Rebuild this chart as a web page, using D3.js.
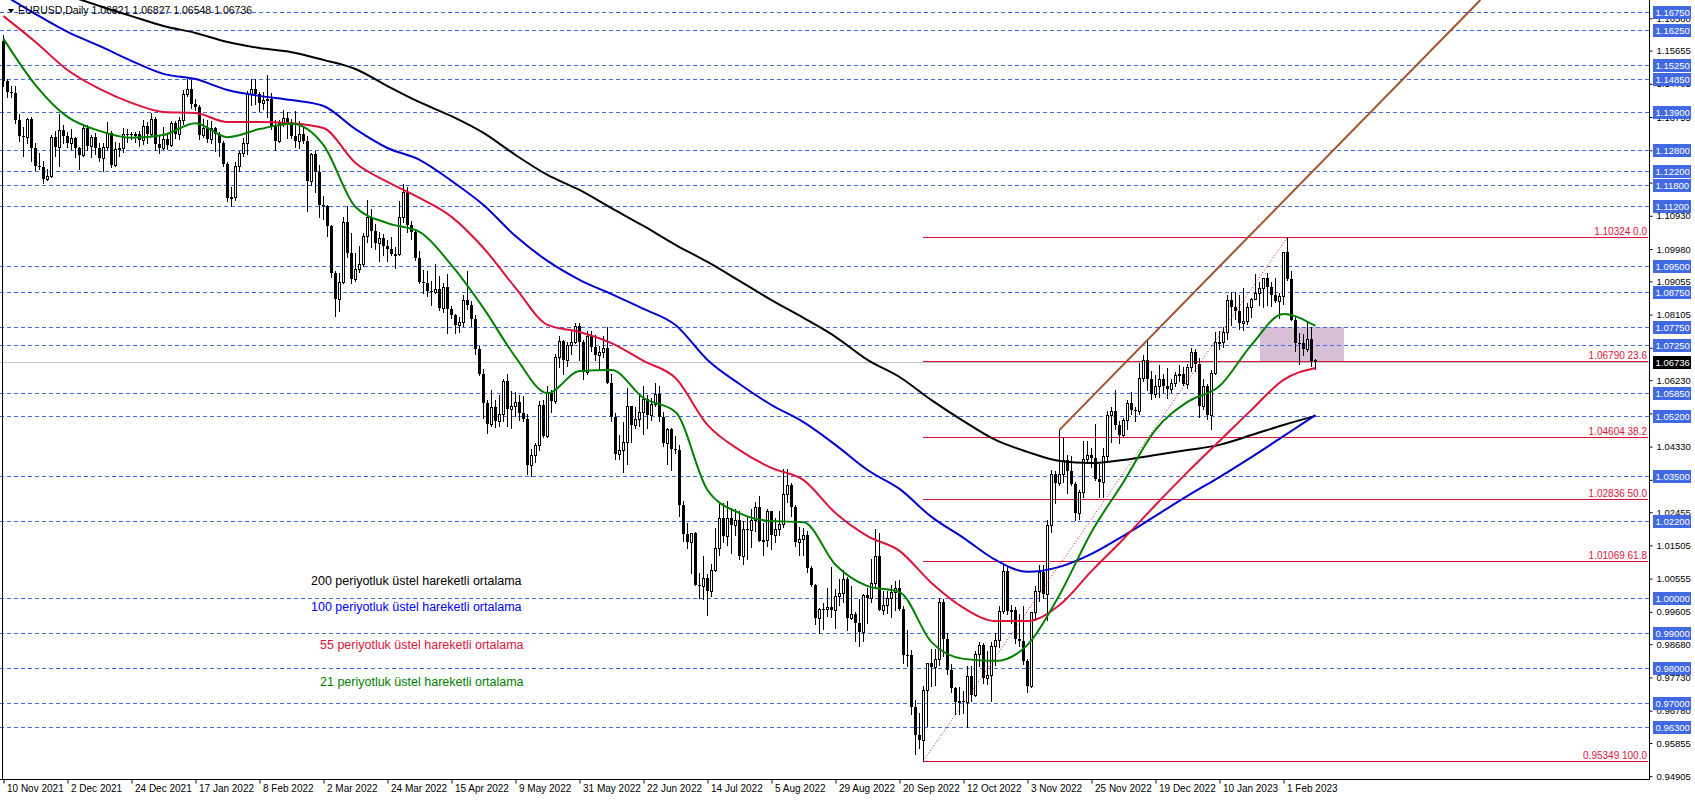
<!DOCTYPE html>
<html><head><meta charset="utf-8">
<script src="https://cdn.jsdelivr.net/npm/d3@7"></script>
<style>
body{margin:0;background:#fff;overflow:hidden}
svg{display:block}
text{font-family:"Liberation Sans",Arial,sans-serif}
</style>
</head><body>
<svg id="c" width="1695" height="800"></svg>
<script>
// ---------------- DATA ----------------
const opens=[
1.1593,1.1478,1.1446,1.1444,1.1368,1.1320,1.1319,1.1370,1.1287,1.1236,
1.1233,1.1198,1.1207,1.1317,1.1291,1.1338,1.1320,1.1300,1.1315,1.1288,
1.1266,1.1343,1.1293,1.1317,1.1286,1.1258,1.1289,1.1330,1.1238,1.1283,
1.1287,1.1328,1.1326,1.1323,1.1327,1.1310,1.1350,1.1326,1.1370,1.1298,
1.1286,1.1312,1.1296,1.1359,1.1326,1.1368,1.1441,1.1456,1.1413,1.1404,
1.1325,1.1344,1.1313,1.1345,1.1327,1.1302,1.1240,1.1144,1.1146,1.1235,
1.1272,1.1302,1.1440,1.1457,1.1441,1.1417,1.1423,1.1428,1.1349,1.1307,
1.1359,1.1374,1.1362,1.1322,1.1307,1.1327,1.1308,1.1193,1.1270,1.1219,
1.1123,1.1120,1.1065,1.0929,1.0854,1.0904,1.1074,1.0986,1.0911,1.0942,
1.0955,1.1036,1.1090,1.1050,1.1016,1.1031,1.1006,1.0997,1.0983,1.0985,
1.1089,1.1160,1.1066,1.1046,1.0971,1.0904,1.0900,1.0878,1.0875,1.0883,
1.0829,1.0890,1.0826,1.0808,1.0780,1.0788,1.0851,1.0838,1.0797,1.0713,
1.0641,1.0557,1.0498,1.0545,1.0507,1.0525,1.0622,1.0540,1.0549,1.0562,
1.0530,1.0512,1.0380,1.0410,1.0437,1.0551,1.0464,1.0587,1.0564,1.0690,
1.0735,1.0680,1.0725,1.0733,1.0779,1.0732,1.0647,1.0750,1.0719,1.0694,
1.0705,1.0716,1.0615,1.0518,1.0411,1.0424,1.0445,1.0548,1.0496,1.0512,
1.0533,1.0568,1.0523,1.0554,1.0583,1.0519,1.0443,1.0484,1.0425,1.0424,
1.0266,1.0182,1.0160,1.0185,1.0038,1.0035,1.0058,1.0019,1.0081,1.0143,
1.0229,1.0178,1.0230,1.0210,1.0223,1.0120,1.0197,1.0195,1.0223,1.0260,
1.0164,1.0165,1.0248,1.0180,1.0198,1.0211,1.0297,1.0324,1.0259,1.0160,
1.0170,1.0179,1.0087,1.0036,0.9943,0.9969,0.9969,0.9974,0.9965,1.0005,
1.0015,1.0055,0.9943,0.9955,0.9929,0.9904,1.0008,0.9999,1.0042,1.0121,
0.9967,0.9979,0.9999,1.0016,1.0028,0.9969,0.9836,0.9836,0.9688,0.9608,
0.9594,0.9736,0.9814,0.9802,0.9825,0.9988,0.9884,0.9793,0.9743,0.9702,
0.9706,0.9703,0.9778,0.9722,0.9839,0.9867,0.9770,0.9781,0.9862,0.9880,
0.9963,1.0078,0.9963,0.9966,0.9882,0.9876,0.9820,0.9749,0.9959,1.0020,
1.0074,1.0011,1.0210,1.0355,1.0328,1.0355,1.0394,1.0363,1.0325,1.0243,
1.0303,1.0397,1.0408,1.0401,1.0339,1.0331,1.0406,1.0524,1.0535,1.0494,
1.0466,1.0508,1.0557,1.0537,1.0536,1.0630,1.0680,1.0626,1.0584,1.0607,
1.0625,1.0605,1.0598,1.0616,1.0638,1.0640,1.0612,1.0661,1.0705,1.0670,
1.0548,1.0605,1.0522,1.0644,1.0732,1.0733,1.0762,1.0851,1.0831,1.0822,
1.0787,1.0793,1.0832,1.0855,1.0871,1.0887,1.0914,1.0890,1.0868,1.0848,
1.0863,1.0990,1.0912,1.0794,1.0728,1.0728,1.0713,1.0742,1.06821];
const highs=[
1.1609,1.1485,1.1464,1.1464,1.1384,1.1348,1.1374,1.1375,1.1300,1.1272,
1.1250,1.1226,1.1325,1.1336,1.1383,1.1352,1.1334,1.1341,1.1319,1.1291,
1.1355,1.1354,1.1325,1.1329,1.1300,1.1300,1.1360,1.1335,1.1304,1.1302,
1.1345,1.1342,1.1334,1.1333,1.1335,1.1368,1.1361,1.1386,1.1377,1.1323,
1.1346,1.1331,1.1364,1.1363,1.1375,1.1453,1.1483,1.1482,1.1428,1.1410,
1.1369,1.1368,1.1363,1.1348,1.1333,1.1306,1.1247,1.1175,1.1248,1.1279,
1.1315,1.1449,1.1484,1.1484,1.1446,1.1448,1.1495,1.1443,1.1367,1.1367,
1.1395,1.1390,1.1370,1.1394,1.1364,1.1347,1.1322,1.1274,1.1279,1.1238,
1.1151,1.1124,1.1067,1.0934,1.0929,1.1089,1.1121,1.1044,1.0987,1.1006,
1.1043,1.1137,1.1113,1.1070,1.1046,1.1042,1.1025,1.1033,1.1005,1.1136,
1.1185,1.1176,1.1077,1.1053,1.0991,1.0939,1.0936,1.0908,1.0956,1.0922,
1.0900,1.0926,1.0836,1.0812,1.0804,1.0866,1.0936,1.0849,1.0809,1.0721,
1.0655,1.0566,1.0594,1.0565,1.0580,1.0627,1.0642,1.0593,1.0590,1.0580,
1.0577,1.0525,1.0425,1.0442,1.0564,1.0566,1.0607,1.0595,1.0697,1.0748,
1.0737,1.0733,1.0765,1.0787,1.0786,1.0737,1.0765,1.0764,1.0752,1.0722,
1.0748,1.0774,1.0640,1.0530,1.0467,1.0503,1.0601,1.0549,1.0545,1.0582,
1.0606,1.0580,1.0572,1.0615,1.0606,1.0531,1.0485,1.0486,1.0463,1.0437,
1.0277,1.0215,1.0186,1.0189,1.0071,1.0121,1.0068,1.0096,1.0201,1.0269,
1.0273,1.0278,1.0258,1.0254,1.0248,1.0220,1.0234,1.0254,1.0274,1.0293,
1.0214,1.0254,1.0250,1.0229,1.0248,1.0368,1.0368,1.0328,1.0267,1.0202,
1.0201,1.0192,1.0091,1.0040,0.9971,0.9985,1.0029,1.0090,1.0025,1.0055,
1.0080,1.0059,1.0034,0.9961,0.9998,1.0011,1.0030,1.0113,1.0198,1.0187,
1.0019,1.0019,1.0037,1.0050,1.0051,0.9976,0.9908,0.9852,0.9709,0.9670,
0.9748,0.9815,0.9853,0.9854,0.9999,0.9998,0.9899,0.9810,0.9747,0.9746,
0.9735,0.9807,0.9807,0.9848,0.9875,0.9870,0.9848,0.9873,0.9900,0.9976,
1.0094,1.0089,0.9980,0.9975,0.9954,0.9976,0.9827,0.9960,1.0034,1.0095,
1.0094,1.0224,1.0365,1.0362,1.0481,1.0458,1.0408,1.0405,1.0332,1.0309,
1.0449,1.0448,1.0430,1.0497,1.0384,1.0429,1.0534,1.0545,1.0595,1.0506,
1.0514,1.0566,1.0589,1.0545,1.0673,1.0695,1.0736,1.0650,1.0638,1.0666,
1.0640,1.0658,1.0625,1.0645,1.0665,1.0660,1.0670,1.0714,1.0712,1.0685,
1.0625,1.0613,1.0652,1.0760,1.0763,1.0776,1.0868,1.0874,1.0875,1.0867,
1.0888,1.0844,1.0859,1.0927,1.0904,1.0914,1.0929,1.0903,1.0914,1.0872,
1.0990,1.10324,1.0935,1.0806,1.0758,1.0755,1.0790,1.0775,1.06827];
const lows=[
1.1464,1.1433,1.1432,1.1358,1.1308,1.1265,1.1301,1.1250,1.1225,1.1226,
1.1186,1.1196,1.1205,1.1264,1.1235,1.1300,1.1289,1.1284,1.1262,1.1227,
1.1263,1.1281,1.1262,1.1271,1.1249,1.1222,1.1283,1.1234,1.1235,1.1263,
1.1275,1.1305,1.1312,1.1303,1.1293,1.1299,1.1300,1.1320,1.1280,1.1272,
1.1285,1.1285,1.1293,1.1315,1.1314,1.1357,1.1437,1.1400,1.1395,1.1313,
1.1318,1.1303,1.1301,1.1279,1.1263,1.1235,1.1135,1.1121,1.1139,1.1220,
1.1265,1.1271,1.1410,1.1413,1.1393,1.1399,1.1375,1.1340,1.1281,1.1303,
1.1350,1.1315,1.1315,1.1290,1.1288,1.1302,1.1106,1.1180,1.1160,1.1091,
1.1085,1.1036,1.0918,1.0806,1.0821,1.0900,1.0975,1.0900,1.0906,1.0932,
1.0950,1.1018,1.1004,1.0998,1.0963,1.0982,1.0964,1.0980,1.0945,1.0980,
1.1076,1.1048,1.1028,1.0967,1.0901,1.0872,1.0864,1.0837,1.0873,1.0824,
1.0819,1.0758,1.0800,1.0757,1.0760,1.0777,1.0826,1.0777,1.0698,1.0637,
1.0515,1.0471,1.0493,1.0490,1.0492,1.0505,1.0493,1.0485,1.0521,1.0509,
1.0505,1.0354,1.0350,1.0389,1.0422,1.0460,1.0460,1.0532,1.0557,1.0662,
1.0642,1.0663,1.0698,1.0729,1.0681,1.0627,1.0642,1.0707,1.0681,1.0653,
1.0690,1.0615,1.0507,1.0398,1.0397,1.0359,1.0382,1.0445,1.0485,1.0492,
1.0469,1.0487,1.0509,1.0548,1.0505,1.0435,1.0382,1.0365,1.0414,1.0236,
1.0162,1.0143,1.0071,1.0037,0.9999,0.9998,0.9952,1.0006,1.0078,1.0124,
1.0161,1.0153,1.0130,1.0180,1.0113,1.0097,1.0113,1.0146,1.0192,1.0162,
1.0123,1.0149,1.0141,1.0159,1.0179,1.0202,1.0276,1.0235,1.0150,1.0123,
1.0122,1.0074,1.0033,0.9926,0.9900,0.9911,0.9950,0.9946,0.9914,0.9980,
0.9990,0.9910,0.9940,0.9877,0.9864,0.9876,0.9929,0.9990,1.0030,0.9967,
0.9955,0.9956,0.9945,0.9966,0.9966,0.9813,0.9807,0.9668,0.9553,0.9570,
0.95349,0.9635,0.9748,0.9752,0.9808,0.9835,0.9783,0.9730,0.9669,0.9668,
0.9671,0.9632,0.9705,0.9720,0.9806,0.9758,0.9755,0.9705,0.9808,0.9859,
0.9958,0.9953,0.9930,0.9870,0.9863,0.9812,0.9730,0.9745,0.9937,0.9991,
1.0000,0.9936,1.0190,1.0271,1.0322,1.0333,1.0300,1.0324,1.0223,1.0226,
1.0289,1.0385,1.0375,1.0338,1.0290,1.0289,1.0395,1.0445,1.0484,1.0443,
1.0463,1.0484,1.0525,1.0505,1.0525,1.0620,1.0595,1.0570,1.0575,1.0575,
1.0590,1.0573,1.0589,1.0605,1.0620,1.0609,1.0602,1.0650,1.0650,1.0519,
1.0540,1.0512,1.0482,1.0640,1.0713,1.0717,1.0741,1.0780,1.0798,1.0770,
1.0766,1.0784,1.0803,1.0855,1.0837,1.0831,1.0837,1.0836,1.0846,1.0801,
1.0840,1.0909,1.0794,1.0706,1.0669,1.0695,1.0707,1.0664,1.06548];
const closes=[
1.1478,1.1446,1.1444,1.1368,1.1320,1.1319,1.1370,1.1287,1.1236,1.1233,
1.1198,1.1207,1.1317,1.1291,1.1338,1.1320,1.1300,1.1315,1.1288,1.1266,
1.1343,1.1293,1.1317,1.1286,1.1258,1.1289,1.1330,1.1238,1.1283,1.1287,
1.1328,1.1326,1.1323,1.1327,1.1310,1.1350,1.1326,1.1370,1.1298,1.1286,
1.1312,1.1296,1.1359,1.1326,1.1368,1.1441,1.1456,1.1413,1.1404,1.1325,
1.1344,1.1313,1.1345,1.1327,1.1302,1.1240,1.1144,1.1146,1.1235,1.1272,
1.1302,1.1440,1.1457,1.1441,1.1417,1.1423,1.1428,1.1349,1.1307,1.1359,
1.1374,1.1362,1.1322,1.1307,1.1327,1.1308,1.1193,1.1270,1.1219,1.1123,
1.1120,1.1065,1.0929,1.0854,1.0904,1.1074,1.0986,1.0911,1.0942,1.0955,
1.1036,1.1090,1.1050,1.1016,1.1031,1.1006,1.0997,1.0983,1.0985,1.1089,
1.1160,1.1066,1.1046,1.0971,1.0904,1.0900,1.0878,1.0875,1.0883,1.0829,
1.0890,1.0826,1.0808,1.0780,1.0788,1.0851,1.0838,1.0797,1.0713,1.0641,
1.0557,1.0498,1.0545,1.0507,1.0525,1.0622,1.0540,1.0549,1.0562,1.0530,
1.0512,1.0380,1.0410,1.0437,1.0551,1.0464,1.0587,1.0564,1.0690,1.0735,
1.0680,1.0725,1.0733,1.0779,1.0732,1.0647,1.0750,1.0719,1.0694,1.0705,
1.0716,1.0615,1.0518,1.0411,1.0424,1.0445,1.0548,1.0496,1.0512,1.0533,
1.0568,1.0523,1.0554,1.0583,1.0519,1.0443,1.0484,1.0425,1.0424,1.0266,
1.0182,1.0160,1.0185,1.0038,1.0035,1.0058,1.0019,1.0081,1.0143,1.0229,
1.0178,1.0230,1.0210,1.0223,1.0120,1.0197,1.0195,1.0223,1.0260,1.0164,
1.0165,1.0248,1.0180,1.0198,1.0211,1.0297,1.0324,1.0259,1.0160,1.0170,
1.0179,1.0087,1.0036,0.9943,0.9969,0.9969,0.9974,0.9965,1.0005,1.0015,
1.0055,0.9943,0.9955,0.9929,0.9904,1.0008,0.9999,1.0042,1.0121,0.9967,
0.9979,0.9999,1.0016,1.0028,0.9969,0.9836,0.9836,0.9688,0.9608,0.9594,
0.9736,0.9814,0.9802,0.9825,0.9988,0.9884,0.9793,0.9743,0.9702,0.9706,
0.9703,0.9778,0.9722,0.9839,0.9867,0.9770,0.9781,0.9862,0.9880,0.9963,
1.0078,0.9963,0.9966,0.9882,0.9876,0.9820,0.9749,0.9959,1.0020,1.0074,
1.0011,1.0210,1.0355,1.0328,1.0355,1.0394,1.0363,1.0325,1.0243,1.0303,
1.0397,1.0408,1.0401,1.0339,1.0331,1.0406,1.0524,1.0535,1.0494,1.0466,
1.0508,1.0557,1.0537,1.0536,1.0630,1.0680,1.0626,1.0584,1.0607,1.0625,
1.0605,1.0598,1.0616,1.0638,1.0640,1.0612,1.0661,1.0705,1.0670,1.0548,
1.0605,1.0522,1.0644,1.0732,1.0733,1.0762,1.0851,1.0831,1.0822,1.0787,
1.0793,1.0832,1.0855,1.0871,1.0887,1.0914,1.0890,1.0868,1.0848,1.0863,
1.0990,1.0912,1.0794,1.0728,1.0728,1.0713,1.0742,1.0678,1.06736];

const dateLabels=["10 Nov 2021","2 Dec 2021","24 Dec 2021","17 Jan 2022","8 Feb 2022","2 Mar 2022",
"24 Mar 2022","15 Apr 2022","9 May 2022","31 May 2022","22 Jun 2022","14 Jul 2022","5 Aug 2022",
"29 Aug 2022","20 Sep 2022","12 Oct 2022","3 Nov 2022","25 Nov 2022","19 Dec 2022","10 Jan 2023","1 Feb 2023"];
const barsPerLabel=16;

const priceTicks=[1.16580,1.15655,1.14705,1.13755,1.12805,1.11880,1.10930,1.09980,1.09055,1.08105,
1.07155,1.06230,1.05280,1.04330,1.03380,1.02455,1.01505,1.00555,0.99605,0.98680,0.97730,0.96780,0.95855,0.94905];
const levelLines=[1.16750,1.16250,1.15250,1.14850,1.13900,1.12800,1.12200,1.11800,1.11200,1.09500,
1.08750,1.07750,1.07250,1.05850,1.05200,1.03500,1.02200,1.00000,0.99000,0.98000,0.97000,0.96300];
const fibLevels=[1.10324,1.06790,1.04604,1.02836,1.01069,0.95349];
const fibPercents=["0.0","23.6","38.2","50.0","61.8","100.0"];
const fibStartBar=230;
const fibSwing=[[230,0.95349],[321,1.10324]];
const trendAnchors=[[264,1.0481],[311.2,1.10324]];
const zoneBars=[314,335];
const zonePrices=[1.0775,1.0679];
const lastPrice=1.06736;

const emaBars=[0,8,16,24,32,40,48,56,64,72,80,88,96,104,112,120,128,136,144,152,160,168,176,184,192,200,
208,216,224,232,240,248,256,264,272,280,288,296,304,312,320,328];
const ema200=[1.1785,1.1756,1.1724,1.1693,1.1664,1.1636,1.1616,1.1590,1.1573,1.1561,1.1539,1.1513,1.1464,1.1418,
1.1378,1.1330,1.1267,1.1210,1.1167,1.1115,1.1064,1.1010,1.0961,1.0907,1.0852,1.0801,1.0747,1.0681,1.0632,1.0566,
1.0506,1.0452,1.0418,1.0392,1.0386,1.0395,1.0409,1.0423,1.0438,1.0466,1.0495,1.0521];
const ema100=[1.1725,1.1670,1.1619,1.1579,1.1536,1.1499,1.1484,1.1453,1.1436,1.1424,1.1407,1.1341,1.1287,1.1253,
1.1193,1.1124,1.1035,1.0964,1.0910,1.0869,1.0827,1.0781,1.0681,1.0612,1.0552,1.0503,1.0438,1.0366,1.0312,1.0232,
1.0172,1.0109,1.0075,1.0089,1.0126,1.0178,1.0235,1.0292,1.0346,1.0403,1.0463,1.0523];
const ema55=[1.1664,1.1590,1.1510,1.1456,1.1416,1.1390,1.1387,1.1361,1.1361,1.1358,1.1344,1.1244,1.1190,1.1144,
1.1090,1.1001,1.0887,1.0781,1.0761,1.0729,1.0678,1.0629,1.0495,1.0423,1.0372,1.0337,1.0243,1.0177,1.0135,1.0043,
0.9972,0.9934,0.9934,0.9980,1.0077,1.0169,1.0266,1.0360,1.0449,1.0538,1.0624,1.0658];
const ema21=[1.1599,1.1467,1.1376,1.1336,1.1316,1.1324,1.1358,1.1318,1.1341,1.1356,1.1295,1.1118,1.1072,1.1047,
1.0952,1.0829,1.0689,1.0586,1.0649,1.0652,1.0572,1.0532,1.0309,1.0243,1.0220,1.0217,1.0095,1.0034,1.0017,0.9874,
0.9826,0.9820,0.9866,1.0009,1.0189,1.0332,1.0481,1.0561,1.0606,1.0724,1.0812,1.0778];

const legendTexts=["200 periyotluk üstel hareketli ortalama","100 periyotluk üstel hareketli ortalama",
"55 periyotluk üstel hareketli ortalama","21 periyotluk üstel hareketli ortalama"];
const titleText="EURUSD,Daily  1.06821 1.06827 1.06548 1.06736";

// ---------------- DRAW ----------------
const svg=d3.select("#c");
const plotR=1649, plotB=779;
const nBars=closes.length;
const x=d3.scaleLinear().domain([0,328]).range([3.5,3.5+4*328]);
const y=d3.scaleLinear().domain([0.94905,1.1675]).range([776.2,12.3]);
const cy=v=>Math.round(y(v))+0.5;
const AXF="9.5px";

const COL={blue:"#4169e1",fib:"#dc143c",e200:"#000000",e100:"#0000cd",e55:"#dc143c",e21:"#008000",trend:"#a0522d",zone:"#d8bfd8",last:"#c0c0c0"};

svg.append("rect").attr("width",1695).attr("height",800).attr("fill","#fff");
svg.append("defs").append("clipPath").attr("id","plot").append("rect")
  .attr("x",0).attr("y",0).attr("width",plotR).attr("height",plotB);
const g=svg.append("g").attr("clip-path","url(#plot)");

// zone rectangle
g.append("rect")
  .attr("x",Math.round(x(zoneBars[0]))).attr("y",Math.round(y(zonePrices[0])))
  .attr("width",Math.round(x(zoneBars[1])-x(zoneBars[0])))
  .attr("height",Math.round(y(zonePrices[1])-y(zonePrices[0])))
  .attr("fill",COL.zone);

// level lines
g.selectAll("line.lvl").data(levelLines).join("line").attr("class","lvl")
  .attr("x1",0).attr("x2",plotR).attr("y1",d=>cy(d)).attr("y2",d=>cy(d))
  .attr("stroke",COL.blue).attr("stroke-width",1).attr("stroke-dasharray","4,3");

// last price line
g.append("line").attr("x1",0).attr("x2",plotR).attr("y1",cy(lastPrice)).attr("y2",cy(lastPrice))
  .attr("stroke",COL.last).attr("stroke-width",1);

// fib lines
g.selectAll("line.fib").data(fibLevels).join("line").attr("class","fib")
  .attr("x1",Math.round(x(fibStartBar))).attr("x2",plotR-1).attr("y1",d=>cy(d)).attr("y2",d=>cy(d))
  .attr("stroke",COL.fib).attr("stroke-width",1);
g.selectAll("text.fib").data(fibLevels).join("text").attr("class","fib")
  .attr("x",plotR-2).attr("y",d=>cy(d)-3).attr("text-anchor","end")
  .attr("font-size","10px").attr("fill",COL.fib)
  .text((d,i)=>d.toFixed(5)+" "+fibPercents[i]);

// candles
const idx=d3.range(nBars);
g.selectAll("line.wick").data(idx).join("line").attr("class","wick")
  .attr("x1",i=>x(i)).attr("x2",i=>x(i))
  .attr("y1",i=>Math.round(y(highs[i]))).attr("y2",i=>Math.round(y(lows[i]))+1)
  .attr("stroke","#000").attr("stroke-width",1);
g.selectAll("rect.body").data(idx).join("rect").attr("class","body")
  .each(function(i){
    const o=opens[i],c=closes[i];
    const top=Math.round(y(Math.max(o,c))), bot=Math.round(y(Math.min(o,c)));
    const s=d3.select(this);
    if(c>o){
      s.attr("x",x(i)-1).attr("y",top+0.5).attr("width",2).attr("height",Math.max(bot-top,1))
       .attr("fill","#fff").attr("stroke","#000").attr("stroke-width",1);
    } else {
      s.attr("x",x(i)-1.5).attr("y",top).attr("width",3).attr("height",Math.max(bot-top,1))
       .attr("fill","#000");
    }
  });

// EMAs
const emaLine=d3.line().x(d=>x(d[0])).y(d=>y(d[1])).curve(d3.curveMonotoneX);
[[ema200,COL.e200],[ema100,COL.e100],[ema55,COL.e55],[ema21,COL.e21]].forEach(([arr,col])=>{
  g.append("path").datum(emaBars.map((b,k)=>[b,arr[k]]))
   .attr("d",emaLine).attr("fill","none").attr("stroke",col).attr("stroke-width",2);
});

// fib swing dotted line
g.append("line")
  .attr("x1",x(fibSwing[0][0])).attr("y1",y(fibSwing[0][1]))
  .attr("x2",x(fibSwing[1][0])).attr("y2",y(fibSwing[1][1]))
  .attr("stroke",COL.fib).attr("stroke-width",1).attr("stroke-dasharray","1,2");

// brown trend ray (extended to top of plot)
{
  const [a,b]=trendAnchors;
  const slope=(b[1]-a[1])/(b[0]-a[0]);
  const topPrice=y.invert(0);
  const endBar=a[0]+(topPrice-a[1])/slope;
  g.append("line").attr("x1",x(a[0])).attr("y1",y(a[1]))
   .attr("x2",x(endBar)).attr("y2",y(topPrice))
   .attr("stroke",COL.trend).attr("stroke-width",2);
}

// legend
const legCol=[COL.e200,"#0000ff",COL.e55,COL.e21];
const legPos=[[311,585],[311,611],[320,649],[320,686]];
svg.selectAll("text.leg").data(legendTexts).join("text").attr("class","leg")
  .attr("x",(d,i)=>legPos[i][0]).attr("y",(d,i)=>legPos[i][1])
  .attr("font-size","12.5px").attr("fill",(d,i)=>legCol[i]).text(d=>d);

// title
svg.append("path").attr("d","M8,9 L14,9 L11,13 Z").attr("fill","#000");
svg.append("text").attr("x",18).attr("y",14).attr("font-size","10.5px").attr("fill","#000").text(titleText);

// left marker line & frame
svg.append("line").attr("x1",2.5).attr("x2",2.5).attr("y1",y(opens[0])).attr("y2",plotB+0.5)
  .attr("stroke","#000").attr("stroke-width",1);
svg.append("line").attr("x1",plotR+0.5).attr("x2",plotR+0.5).attr("y1",0).attr("y2",plotB+1)
  .attr("stroke","#000");
svg.append("line").attr("x1",0).attr("x2",plotR+1).attr("y1",plotB+0.5).attr("y2",plotB+0.5)
  .attr("stroke","#000");

// bottom axis
const xAxis=d3.axisBottom(x).tickValues(dateLabels.map((d,k)=>k*barsPerLabel))
  .tickFormat((d,k)=>dateLabels[k]).tickSize(4).tickSizeOuter(0);
const ax=svg.append("g").attr("transform",`translate(0,${plotB+0.5})`).call(xAxis);
ax.select(".domain").remove();
ax.selectAll("text").attr("text-anchor","start").attr("x",3).attr("y",5)
  .attr("font-size","10px").attr("font-family","Liberation Sans, Arial, sans-serif").attr("fill","#000");

// right axis
const yAxis=d3.axisRight(y).tickValues(priceTicks).tickFormat(d3.format(".5f")).tickSize(3);
const ay=svg.append("g").attr("transform",`translate(${plotR+0.5},0)`).call(yAxis);
ay.select(".domain").remove();
ay.selectAll("text").attr("x",7).attr("font-size",AXF)
  .attr("font-family","Liberation Sans, Arial, sans-serif").attr("fill","#000");

// level labels (blue boxes)
const lb=svg.selectAll("g.lbl").data(levelLines).join("g").attr("class","lbl")
  .attr("transform",d=>`translate(${plotR+4},${Math.round(y(d))})`);
lb.append("rect").attr("x",0).attr("y",-6).attr("width",38).attr("height",13).attr("fill",COL.blue);
lb.append("text").attr("x",2.5).attr("y",4).attr("font-size",AXF).attr("fill","#fff")
  .text(d=>d.toFixed(5));

// last price box
const lp=svg.append("g").attr("transform",`translate(${plotR+4},${Math.round(y(lastPrice))})`);
lp.append("rect").attr("x",0).attr("y",-6).attr("width",38).attr("height",13).attr("fill","#000");
lp.append("text").attr("x",2.5).attr("y",4).attr("font-size",AXF).attr("fill","#fff").text(lastPrice.toFixed(5));
</script>
</body></html>
